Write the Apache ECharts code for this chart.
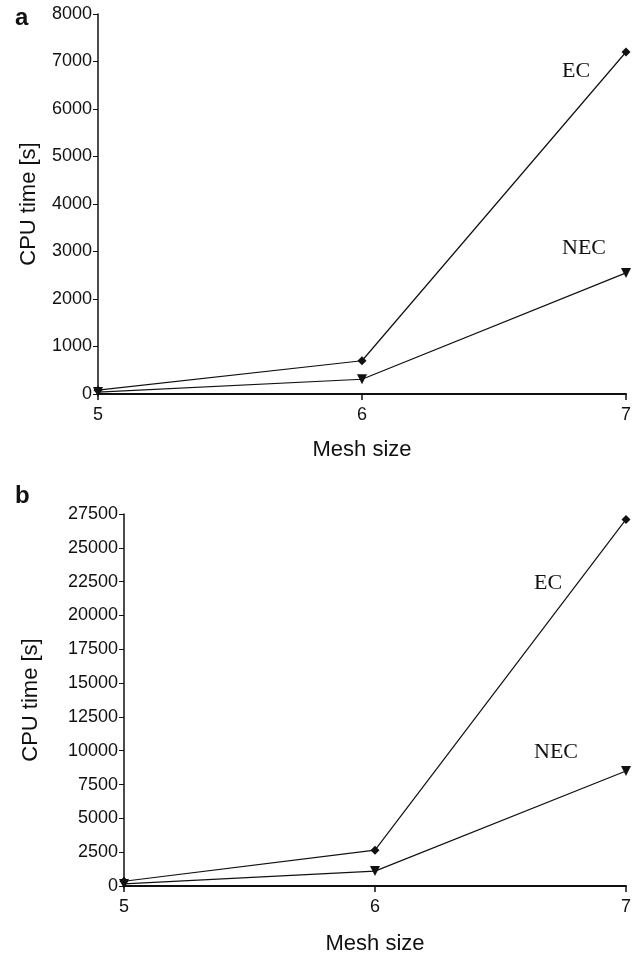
<!DOCTYPE html>
<html>
<head>
<meta charset="utf-8">
<script src="https://cdn.jsdelivr.net/npm/echarts@6/dist/echarts.min.js"></script>
<style>
  html, body { margin: 0; padding: 0; background: #fff; }
  #main { width: 634px; height: 960px; }
</style>
</head>
<body>
<div id="main"></div>
<script>
// mesh sizes on x
var meshSizes = [5, 6, 7];
// panel a
var ecA = [80, 700, 7200];
var necA = [40, 310, 2550];
var ticksA = [0, 1000, 2000, 3000, 4000, 5000, 6000, 7000, 8000];
// panel b
var ecB = [350, 2650, 27100];
var necB = [150, 1100, 8500];
var ticksB = [0, 2500, 5000, 7500, 10000, 12500, 15000, 17500, 20000, 22500, 25000, 27500];

var sans = 'Liberation Sans';
var serif = 'Liberation Serif';

function points(vals, tag, off) {
	var out = [];
	for (var i = 0; i < meshSizes.length; i++) {
		var p = { value: [meshSizes[i], vals[i]] };
		if (i === meshSizes.length - 1) {
			p.label = {
				show: true, formatter: tag, position: 'inside', offset: off,
				fontFamily: serif, fontSize: 22, color: '#111'
			};
		}
		out.push(p);
	}
	return out;
}

function xAx(idx, gap) {
	return {
		type: 'value', gridIndex: idx, min: 5, max: 7, interval: 1,
		name: 'Mesh size', nameLocation: 'middle', nameGap: gap,
		nameTextStyle: { fontFamily: sans, fontSize: 22, color: '#111' },
		axisLine: { lineStyle: { color: '#111', width: 2 } },
		axisTick: { show: true, length: 6, lineStyle: { color: '#111', width: 1.5 } },
		axisLabel: { fontFamily: sans, fontSize: 18, color: '#111', margin: 12 },
		splitLine: { show: false }
	};
}

function yAx(idx, ticks, gap) {
	return {
		type: 'value', gridIndex: idx, min: ticks[0], max: ticks[ticks.length - 1],
		interval: ticks[1] - ticks[0],
		name: 'CPU time [s]', nameLocation: 'middle', nameGap: gap,
		nameTextStyle: { fontFamily: sans, fontSize: 22, color: '#111' },
		axisLine: { show: true, lineStyle: { color: '#111', width: 1.5 } },
		axisTick: { show: true, length: 5, lineStyle: { color: '#111' } },
		axisLabel: {
			fontFamily: sans, fontSize: 18, color: '#111', margin: 6,
			formatter: function (v) { return String(v); }
		},
		splitLine: { show: false }
	};
}

function line(idx, vals, tag, sym, size, off) {
	return {
		type: 'line', xAxisIndex: idx, yAxisIndex: idx,
		data: points(vals, tag, off),
		symbol: sym, symbolSize: size, symbolRotate: sym === 'triangle' ? 180 : 0,
		showSymbol: true,
		lineStyle: { color: '#111', width: 1.2 },
		itemStyle: { color: '#111' },
		z: 3
	};
}

var chartObj = echarts.init(document.getElementById('main'));

var option = {
	animation: false,
	backgroundColor: '#fff',
	title: [
		{ text: 'a', left: 10, top: 1, textStyle: { fontFamily: sans, fontSize: 24, fontWeight: 'bold', color: '#111' } },
		{ text: 'b', left: 10, top: 479, textStyle: { fontFamily: sans, fontSize: 24, fontWeight: 'bold', color: '#111' } }
	],
	grid: [
		{ left: 98, right: 4, top: 14, bottom: 566 },
		{ left: 124, right: 4, top: 514, bottom: 74 }
	],
	xAxis: [xAx(0, 45), xAx(1, 47)],
	yAxis: [yAx(0, ticksA, 58), yAx(1, ticksB, 82)],
	series: [
		line(0, ecA, 'EC', 'diamond', 9, [-50, 19]),
		line(0, necA, 'NEC', 'triangle', 10, [-42, -25]),
		line(1, ecB, 'EC', 'diamond', 9, [-78, 64]),
		line(1, necB, 'NEC', 'triangle', 10, [-70, -19])
	]
};

chartObj.setOption(option);
</script>
</body>
</html>
